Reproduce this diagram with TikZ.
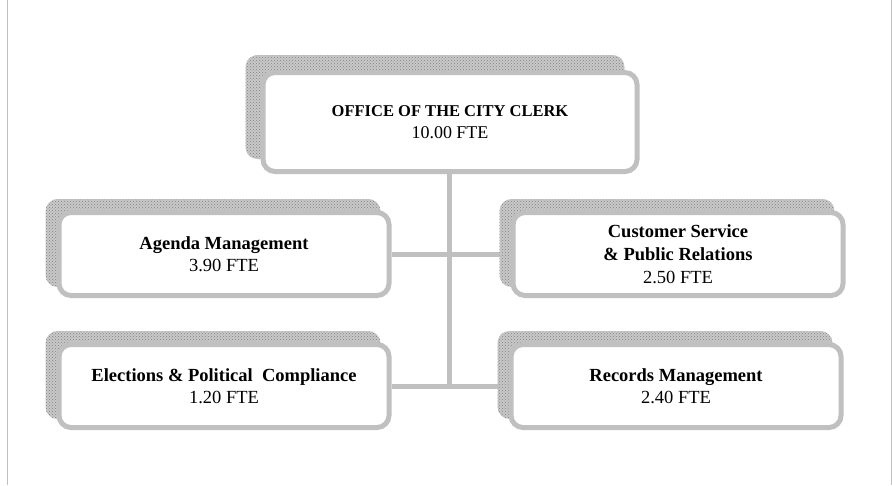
\documentclass[tikz,border=0pt]{standalone}
\usepackage{fontspec}
\setmainfont{Liberation Serif}
\usetikzlibrary{patterns,backgrounds}
\definecolor{boxgray}{HTML}{C0C0C0}
\definecolor{shadegray}{HTML}{808080}

\begin{document}
\begin{tikzpicture}[x=1pt, y=-1pt,
  unit/.style={draw=boxgray, line width=5pt, fill=white, rounded corners=12pt,
    minimum width=330pt, minimum height=83pt, inner sep=0pt, align=center,
    font=\fontsize{18.5}{22}\selectfont},
  shade/.style={fill=boxgray!85, rounded corners=12pt,
    postaction={pattern=crosshatch dots, pattern color=shadegray}},
  link/.style={draw=boxgray, line width=5pt}]
\useasboundingbox (0,0) rectangle (892,485);
% page edges
\draw[boxgray, line width=1pt] (7,0) -- (7,485);
\draw[boxgray, line width=1pt] (891,0) -- (891,485);

\node[unit, minimum width=374pt, minimum height=99pt,
  font=\fontsize{16.5}{22}\selectfont] (clerk) at (450,122)
  {\textbf{OFFICE OF THE CITY CLERK}\\{\fontsize{18}{22}\selectfont 10.00 FTE}};
\node[unit] (agenda) at (224,254) {\textbf{Agenda Management}\\3.90 FTE};
\node[unit, font=\fontsize{18.5}{23}\selectfont] (service) at (678,254)
  {\textbf{Customer Service}\\\textbf{\& Public Relations}\\2.50 FTE};
\node[unit] (elect) at (224,386)
  {\textbf{Elections \& Political\ \ Compliance}\\1.20 FTE};
\node[unit] (records) at (676,386) {\textbf{Records Management}\\2.40 FTE};

\coordinate (top) at ([xshift=-1pt]clerk.south);
\coordinate (j1) at (top |- agenda.east);
\coordinate (j2) at (top |- elect.east);

\begin{scope}[on background layer]
  \draw[link] (top) -- ([yshift=-2pt]j2);
  \draw[link] (agenda.east) -- (j1) -- (service.west);
  \draw[link] (elect.east) -- (records.west);
  \foreach \n/\d in {clerk/15pt, agenda/11pt, service/11pt, elect/11pt, records/11pt}
    \fill[shade] ([xshift=-\d, yshift=\d]\n.south west) rectangle
      ([xshift=-\d, yshift=\d]\n.north east);
\end{scope}
\end{tikzpicture}
\end{document}
